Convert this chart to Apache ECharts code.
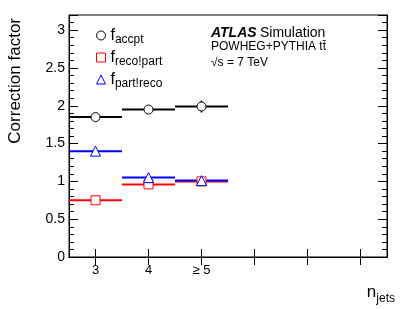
<!DOCTYPE html>
<html><head><meta charset="utf-8">
<script src="https://cdn.jsdelivr.net/npm/echarts@6/dist/echarts.min.js"></script>
<style>html,body{margin:0;padding:0;background:#fff}#c{width:407px;height:309px}</style>
</head><body><div id="c"></div>
<script>
const categories = ['3', '4', '≥ 5', '', '', ''];
const fAccpt = [1.85, 1.95, 1.99];
const fAccptErr = [0.01, 0.01, 0.08];
const fRecoPart = [0.75, 0.96, 1.00];
const fRecoPartErr = [0.01, 0.01, 0.02];
const fPartReco = [1.40, 1.05, 1.01];
const fPartRecoErr = [0.01, 0.01, 0.02];
const seriesNames = ['accpt', 'reco!part', 'part!reco'];

const FONT = 'Liberation Sans, Arial, Helvetica, sans-serif';
const chart = echarts.init(document.getElementById('c'));

function stepSeries(vals, errs, color) {
  return {
    type: 'custom',
    silent: true,
    data: vals.map((v, i) => [i, v, errs[i]]),
    renderItem: function (params, api) {
      const i = api.value(0), y = api.value(1), e = api.value(2);
      const c = api.coord([i, y]);
      const w = api.size([1, 0])[0];
      const t = api.coord([i, y + e]), b = api.coord([i, y - e]);
      return {
        type: 'group',
        children: [
          {type: 'line', shape: {x1: c[0] - w / 2, y1: c[1], x2: c[0] + w / 2, y2: c[1]}, style: {stroke: color, lineWidth: 2}},
          {type: 'line', shape: {x1: t[0], y1: t[1], x2: b[0], y2: b[1]}, style: {stroke: color, lineWidth: 1.5}}
        ]
      };
    },
    z: 2
  };
}
function markerSeries(name, vals, symbol, color, size) {
  return {
    name: name,
    type: 'scatter',
    symbol: symbol,
    symbolSize: size,
    data: vals.map((v, i) => [i, v]),
    itemStyle: {color: '#fff', borderColor: color, borderWidth: 1, opacity: 1},
    z: 3
  };
}

const xBase = {
  type: 'category', data: categories, boundaryGap: true,
  axisLine: {show: true, lineStyle: {color: '#000'}},
  axisTick: {show: true, inside: true, alignWithLabel: true, length: 8, lineStyle: {color: '#000'}},
  splitLine: {show: false}
};
const yBase = {
  type: 'value', min: 0, max: 3.2, interval: 0.5,
  axisLine: {show: true, lineStyle: {color: '#000'}},
  axisTick: {show: true, inside: true, length: 9, lineStyle: {color: '#000'}},
  minorTick: {show: true, splitNumber: 5, length: 5, lineStyle: {color: '#000'}},
  splitLine: {show: false}
};

const option = {
  animation: false,
  grid: {left: 69, right: 20, top: 15, bottom: 52, show: true, borderColor: '#000', borderWidth: 1, backgroundColor: 'transparent'},
  xAxis: [
    Object.assign({}, xBase, {position: 'bottom',
      axisLabel: {color: '#000', fontFamily: FONT, fontSize: 13, margin: 7, interval: 0}}),
    Object.assign({}, xBase, {position: 'top', axisLabel: {show: false}})
  ],
  yAxis: [
    Object.assign({}, yBase, {position: 'left',
      axisLabel: {color: '#000', fontFamily: FONT, fontSize: 14, margin: 4, formatter: v => (v > 3.01 ? '' : String(v))}}),
    Object.assign({}, yBase, {position: 'right', axisLabel: {show: false}})
  ],
  legend: {
    orient: 'vertical', left: 91, top: 20, itemGap: 1, itemWidth: 9, itemHeight: 9,
    selectedMode: false,
    data: seriesNames,
    itemStyle: {borderWidth: 1},
    formatter: n => '{f|f}{s|' + n + '}',
    textStyle: {
      fontFamily: FONT, color: '#000',
      rich: {
        f: {fontSize: 16, fontFamily: FONT, color: '#000', padding: [0, 0, 0, 0], lineHeight: 20},
        s: {fontSize: 12, fontFamily: FONT, color: '#000', padding: [9, 0, 0, 0], lineHeight: 12}
      }
    }
  },
  graphic: [
    {type: 'text', left: 211, top: 26, style: {
      text: '{a|ATLAS} {b|Simulation}', rich: {
        a: {fontFamily: FONT, fontSize: 14, fontWeight: 'bold', fontStyle: 'italic', fill: '#000'},
        b: {fontFamily: FONT, fontSize: 14, fill: '#000'}
      }}},
    {type: 'text', left: 211, top: 41, style: {text: 'POWHEG+PYTHIA tt̄', fontFamily: FONT, fontSize: 12, fill: '#000'}},
    {type: 'text', left: 211, top: 57, style: {text: '√s = 7 TeV', fontFamily: FONT, fontSize: 12, fill: '#000'}},
    {type: 'text', x: 7, y: 18, rotation: Math.PI / 2, style: {
      text: 'Correction factor', fontFamily: FONT, fontSize: 17, fill: '#000', align: 'right', verticalAlign: 'top'}},
    {type: 'text', right: 12, top: 284, style: {
      text: '{n|n}{s|jets}', rich: {
        n: {fontFamily: FONT, fontSize: 17, fill: '#000'},
        s: {fontFamily: FONT, fontSize: 12, fill: '#000', padding: [12, 0, 0, 0]}
      }}}
  ],
  series: [
    stepSeries(fAccpt, fAccptErr, '#000'),
    stepSeries(fRecoPart, fRecoPartErr, '#ff0000'),
    stepSeries(fPartReco, fPartRecoErr, '#0000ff'),
    markerSeries(seriesNames[0], fAccpt, 'circle', '#000', 9),
    markerSeries(seriesNames[1], fRecoPart, 'rect', '#ff0000', 9),
    markerSeries(seriesNames[2], fPartReco, 'triangle', '#0000ff', 10)
  ]
};
chart.setOption(option);
</script>
</body></html>
